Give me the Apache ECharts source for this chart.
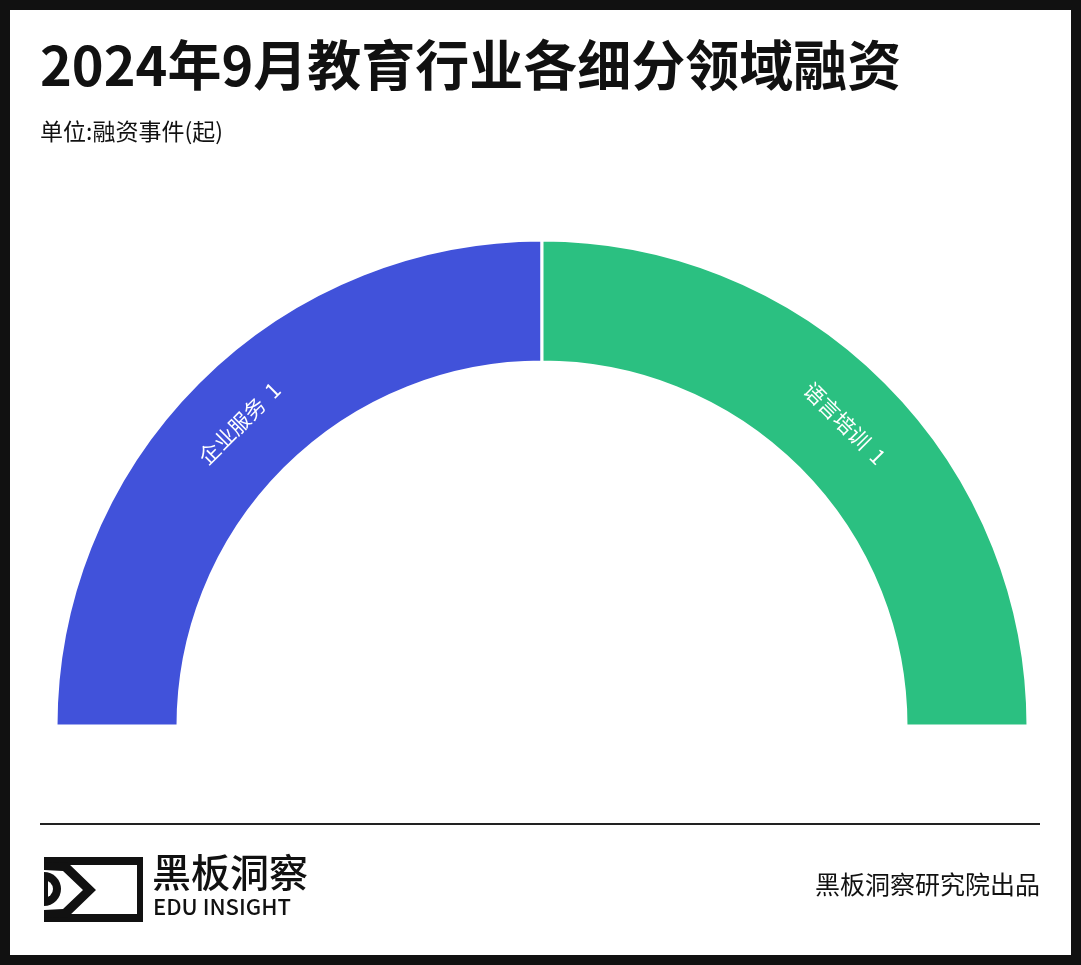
<!DOCTYPE html>
<html><head><meta charset="utf-8">
<script src="https://cdn.jsdelivr.net/npm/echarts@6/dist/echarts.min.js"></script>
<style>html,body{margin:0;padding:0;background:#fff}#c{width:1081px;height:965px}</style>
</head><body><div id="c"></div>
<script>
const categories = ['企业服务', '语言培训'];
const values = [1, 1];
const colors = ['#4152DA', '#2BC081'];
const title = '2024年9月教育行业各细分领域融资';
const subtitle = '单位:融资事件(起)';
const F = '"Noto Sans CJK SC", "Noto Sans", sans-serif';
const chart = echarts.init(document.getElementById('c'));
chart.setOption({
  backgroundColor: '#fff',
  animation: false,
  series: [{
    type: 'pie',
    center: [542, 726],
    radius: [364, 486],
    startAngle: 180,
    endAngle: 0,
    clockwise: true,
    itemStyle: { borderColor: '#fff', borderWidth: 3 },
    label: { show: true, position: 'inside', rotate: 'tangential', color: '#fff', fontSize: 21, fontFamily: F,
      formatter: p => p.name + '  ' + p.value },
    labelLine: { show: false },
    data: categories.map((n, i) => ({ name: n, value: values[i], itemStyle: { color: colors[i] } }))
  }],
  graphic: [
    { type: 'rect', shape: { x: 5, y: 5, width: 1071, height: 955 }, style: { fill: 'none', stroke: '#111', lineWidth: 10 } },
    { type: 'text', left: 40, top: 38, style: { text: title, font: 'bold 54px ' + F, fill: '#111' } },
    { type: 'text', left: 40, top: 120, style: { text: subtitle, font: '23px ' + F, fill: '#111' } },
    { type: 'line', shape: { x1: 40, y1: 824, x2: 1040, y2: 824 }, style: { stroke: '#222', lineWidth: 2 } },
    // logo
    { type: 'polygon', shape: { points: [[44,857],[143,857],[143,922],[44,922],[44,914],[137,914],[137,865],[44,865]] }, style: { fill: '#111' } },
    { type: 'polygon', shape: { points: [[44,862],[68,863],[96,890],[68,917],[44,918],[44,910],[63,909],[83,890],[63,871],[44,870]] }, style: { fill: '#111' } },
    { type: 'circle', shape: { cx: 44, cy: 889, r: 17 }, style: { fill: '#111' } },
    { type: 'circle', shape: { cx: 44, cy: 889, r: 9 }, style: { fill: '#fff' } },
    { type: 'rect', shape: { x: 20, y: 860, width: 24, height: 60 }, style: { fill: '#fff' } },
    { type: 'rect', shape: { x: 44, y: 876, width: 4, height: 26 }, style: { fill: '#111' } },
    { type: 'text', left: 152, top: 853, style: { text: '黑板洞察', font: '500 39px ' + F, fill: '#111' } },
    { type: 'text', left: 153, top: 896, style: { text: 'EDU INSIGHT', font: '500 22px ' + F, fill: '#111' } },
    { type: 'text', right: 41, top: 872, style: { text: '黑板洞察研究院出品', font: '25px ' + F, fill: '#111' } }
  ]
});
</script></body></html>
